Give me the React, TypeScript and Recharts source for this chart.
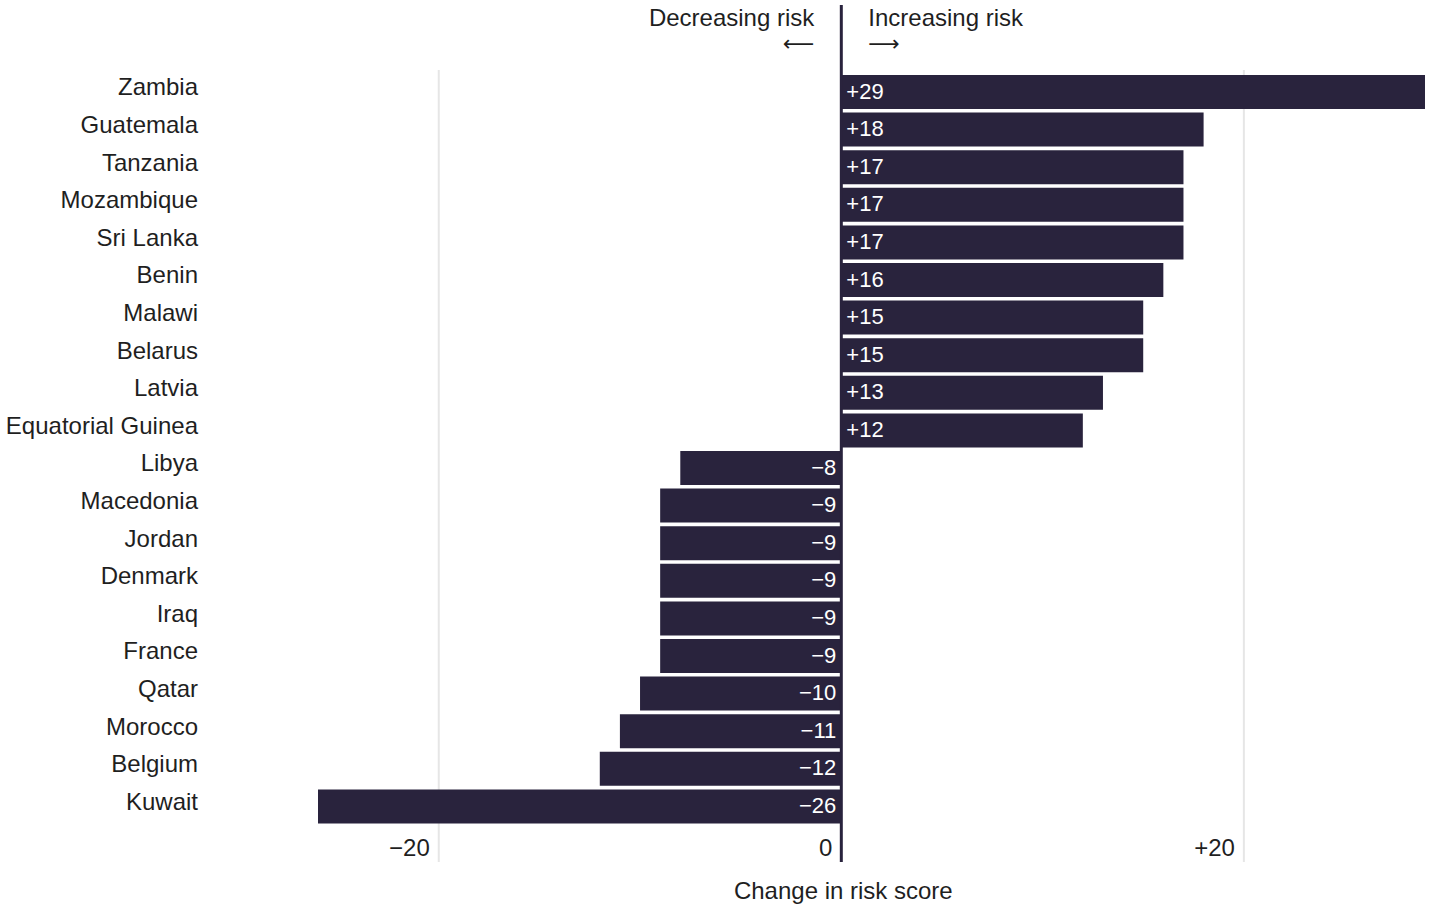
import { BarChart, Bar, XAxis, YAxis, CartesianGrid, ReferenceLine, LabelList } from 'recharts';

const countries = [
    'Zambia', 'Guatemala', 'Tanzania', 'Mozambique', 'Sri Lanka', 'Benin', 'Malawi', 'Belarus', 'Latvia',
    'Equatorial Guinea', 'Libya', 'Macedonia', 'Jordan', 'Denmark', 'Iraq', 'France', 'Qatar', 'Morocco',
    'Belgium', 'Kuwait',
];
const changes = [29, 18, 17, 17, 17, 16, 15, 15, 13, 12, -8, -9, -9, -9, -9, -9, -10, -11, -12, -26];
const xTicks = [-20, 0, 20];

const data = countries.map((country, i) => ({ country, change: changes[i] }));

const FONT = '"Liberation Sans", Arial, sans-serif';
const BAR = '#29233d';
const TEXT = '#1f1f1f';

const signed = (v: number) => (v > 0 ? `+${v}` : v < 0 ? `\u2212${Math.abs(v)}` : '0');

// grid lines only at the labelled ticks, using whatever scale object the axis hands over
function gridX({ xAxis, offset }: any) {
    const sc = xAxis?.scale;
    return xTicks.map((t) => {
        if (typeof sc === 'function') return sc(t);
        if (sc && typeof sc.map === 'function') return sc.map(t);
        const [d0, d1] = xAxis.domain;
        return offset.left + ((t - d0) / (d1 - d0)) * offset.width;
    });
}

function CountryTick({ x, y, payload }: any) {
    return (
        <text x={x} y={y - 5} textAnchor="end" dominantBaseline="central" fontSize={24} fill={TEXT} fontFamily={FONT}>
            {payload.value}
        </text>
    );
}

function ScoreTick({ x, y, payload }: any) {
    return (
        <text x={x - 9} y={y - 15} textAnchor="end" dominantBaseline="central" fontSize={24} fill={TEXT} fontFamily={FONT}>
            {signed(payload.value)}
        </text>
    );
}

function BarValue({ x, y, width, height, value }: any) {
    const left = Math.min(x, x + width);
    const right = Math.max(x, x + width);
    const pos = value >= 0;
    return (
        <text
            x={pos ? left + 5 : right - 5}
            y={y + height / 2 - 1}
            textAnchor={pos ? 'start' : 'end'}
            dominantBaseline="central"
            fontSize={22}
            fill="#fff"
            fontFamily={FONT}
        >
            {signed(value)}
        </text>
    );
}

function ZeroLabels({ viewBox }: any) {
    const { x, y, height } = viewBox;
    const style = { fontSize: 24, fill: TEXT, fontFamily: FONT };
    const arrow = { fontSize: 22, fill: TEXT, fontFamily: '"DejaVu Sans", sans-serif' };
    return (
        <g>
            <text x={x - 27} y={y + 12} textAnchor="end" dominantBaseline="central" {...style}>Decreasing risk</text>
            <text x={x - 27} y={y + 38} textAnchor="end" dominantBaseline="central" {...arrow}>{'\u27F5'}</text>
            <text x={x + 27} y={y + 12} textAnchor="start" dominantBaseline="central" {...style}>Increasing risk</text>
            <text x={x + 27} y={y + 38} textAnchor="start" dominantBaseline="central" {...arrow}>{'\u27F6'}</text>
            <text x={x + 2} y={y + height + 28} textAnchor="middle" dominantBaseline="central" {...style}>Change in risk score</text>
        </g>
    );
}

export default function App() {
    return (
        <div style={{ position: 'absolute', left: 0, top: 0, background: '#fff' }}>
            <BarChart
                width={1437}
                height={905}
                data={data}
                layout="vertical"
                margin={{ top: 5, right: 12, bottom: 0, left: 0 }}
            >
                <CartesianGrid
                    horizontal={false}
                    stroke="#e6e6e6"
                    strokeWidth={2}
                    y={70}
                    height={792}
                    verticalCoordinatesGenerator={gridX}
                />
                <XAxis
                    type="number"
                    domain={[-26, 29]}
                    ticks={xTicks}
                    axisLine={false}
                    tickLine={false}
                    tickSize={0}
                    tickMargin={0}
                    height={43}
                    tick={<ScoreTick />}
                />
                <YAxis
                    type="category"
                    dataKey="country"
                    width={318}
                    axisLine={false}
                    tickLine={false}
                    tickSize={0}
                    tickMargin={120}
                    padding={{ top: 68, bottom: 37 }}
                    interval={0}
                    tick={<CountryTick />}
                />
                <Bar dataKey="change" fill={BAR} barSize={34} isAnimationActive={false}>
                    <LabelList dataKey="change" content={<BarValue />} />
                </Bar>
                <ReferenceLine x={0} stroke={BAR} strokeWidth={3} label={<ZeroLabels />} />
            </BarChart>
        </div>
    );
}
